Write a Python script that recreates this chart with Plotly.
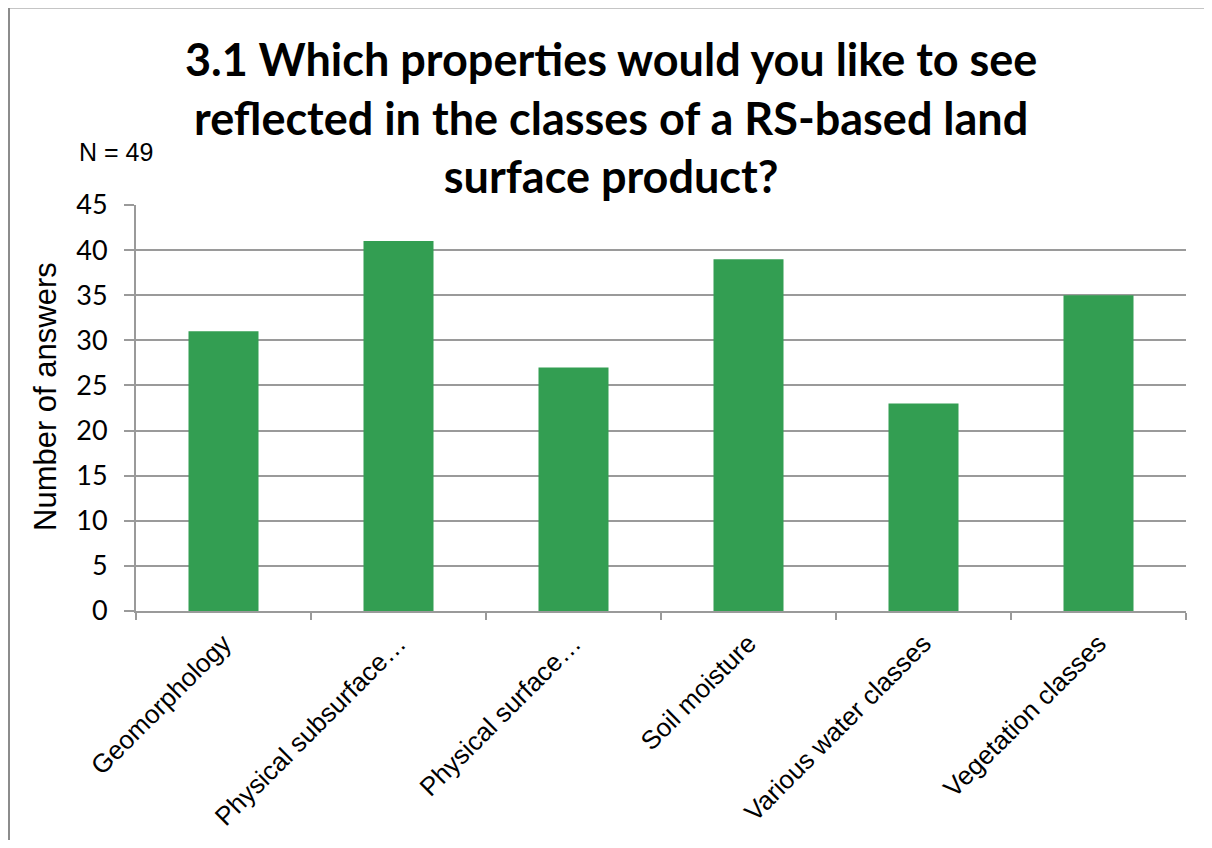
import plotly.graph_objects as go

categories = ["Geomorphology", "Physical subsurface…", "Physical surface…",
              "Soil moisture", "Various water classes", "Vegetation classes"]
answers = [31, 41, 27, 39, 23, 35]
y_ticks = [0, 5, 10, 15, 20, 25, 30, 35, 40, 45]

title_text = ("3.1 Which properties would you like to see<br>"
              "reflected in the classes of a RS-based land<br>"
              "surface product?")
n_label = "N = 49"
y_title = "Number of answers"

# page body has an 8px margin, so keep the figure inside the 1212x848 window
W, H = 1196, 832
L, R, T, B = 128, 18, 197, 229
pw, ph = W - L - R, H - T - B


def px(x):
    return (x - L) / pw


def py(y):
    return (H - B - y) / ph


fig = go.Figure(go.Bar(x=categories, y=answers, marker=dict(color="#339e52", line=dict(width=0)),
                       width=0.4))

fig.update_layout(
    width=W, height=H,
    margin=dict(l=L, r=R, t=T, b=B, autoexpand=False),
    paper_bgcolor="white", plot_bgcolor="white",
    showlegend=False,
    font=dict(family="Liberation Sans, Arial", color="black"),
)
fig.update_yaxes(range=[0, 45], tickvals=y_ticks, showgrid=True, gridcolor="#9a9a9a", gridwidth=2,
                 ticks="outside", ticklen=10, tickcolor="#9a9a9a", tickwidth=2, ticklabelstandoff=11,
                 showline=True, linecolor="#9a9a9a", linewidth=2, zeroline=False, automargin=False,
                 tickfont=dict(family="Lato", size=27, color="black"))
fig.update_xaxes(tickangle=-45, ticks="outside", tickson="boundaries", ticklen=7,
                 tickcolor="#9a9a9a", tickwidth=2, showline=True, linecolor="#9a9a9a", linewidth=2,
                 ticklabelstandoff=5, automargin=False,
                 tickfont=dict(family="Liberation Sans, Arial", size=26, color="black"))

# title
fig.add_annotation(text=title_text, xref="paper", yref="paper",
                   x=px(603), y=py(109), xanchor="center", yanchor="middle",
                   showarrow=False, align="center",
                   font=dict(family="Lato", size=45, color="black", weight="bold"))

# y axis title
fig.add_annotation(text=y_title, xref="paper", yref="paper", textangle=-90,
                   x=px(37), y=py(389), xanchor="center", yanchor="middle",
                   showarrow=False, font=dict(family="Liberation Sans, Arial", size=31, color="black"))

fig.add_annotation(text=n_label, xref="paper", yref="paper",
                   x=px(69), y=py(144), xanchor="left", yanchor="middle",
                   showarrow=False, font=dict(family="Liberation Sans, Arial", size=25, color="black"))

# outer chart border (only left and top edges are visible in the frame)
fig.add_shape(type="line", xref="paper", yref="paper",
              x0=px(1), x1=px(1), y0=py(H + 20), y1=py(-0.5),
              line=dict(color="#8c8c8c", width=2), layer="below")
fig.add_shape(type="line", xref="paper", yref="paper",
              x0=px(1), x1=px(W + 20), y0=py(-0.5), y1=py(-0.5),
              line=dict(color="#8c8c8c", width=2), layer="below")

fig.write_html("out.html")
